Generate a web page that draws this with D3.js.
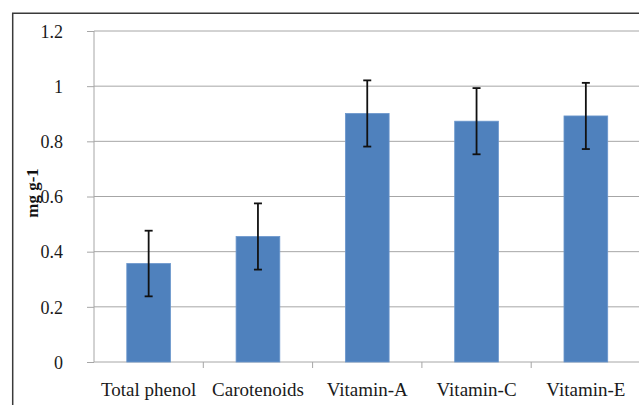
<!DOCTYPE html>
<html><head><meta charset="utf-8">
<script src="https://cdn.jsdelivr.net/npm/d3@7/dist/d3.min.js"></script>
<style>body{margin:0;background:#fff}svg{display:block}</style>
</head><body>
<svg id="c" width="639" height="405"></svg>
<script>
const categories = ["Total phenol","Carotenoids","Vitamin-A","Vitamin-C","Vitamin-E"];
const values = [0.357, 0.455, 0.901, 0.873, 0.892];
const errors = [0.119, 0.12, 0.12, 0.12, 0.12];
const yTicks = [0, 0.2, 0.4, 0.6, 0.8, 1, 1.2];
const yTickLabels = ["0","0.2","0.4","0.6","0.8","1","1.2"];
const yTitle = "mg g-1";

const FONT = "'Liberation Serif', 'Times New Roman', Times, serif";
const svg = d3.select("#c");
const L = 94, R = 640.5, T = 31, B = 362;
const x = d3.scaleBand().domain(categories).range([L, R]).paddingInner(0.6).paddingOuter(0.3);
const xb = d3.scaleBand().domain(categories).range([L, R]);
const y = d3.scaleLinear().domain([0, 1.2]).range([B, T]);

// outer frame
svg.append("path").attr("d", `M12.7,410 V13.3 H645`).attr("fill","none").attr("stroke","#3a3a3a").attr("stroke-width",1.5);

// gridlines
svg.append("g").selectAll("line").data(yTicks.filter(d=>d>0)).join("line")
  .attr("x1", L).attr("x2", R).attr("y1", d=>y(d)).attr("y2", d=>y(d))
  .attr("stroke","#a6a6a6").attr("stroke-width",1);

// y axis
const ya = svg.append("g").attr("transform",`translate(${L},0)`)
  .call(d3.axisLeft(y).tickValues(yTicks).tickFormat((d,i)=>yTickLabels[i]).tickSize(7).tickPadding(24));
ya.attr("font-family", FONT);
ya.select(".domain").attr("stroke","#a6a6a6").attr("d",`M0,${B}V${T}`);
ya.selectAll(".tick line").attr("stroke","#a6a6a6");
ya.selectAll("text").style("font-family",FONT).style("font-size","18px").attr("fill","#1a1a1a").attr("dy","0.35em");

// x axis
const xa = svg.append("g").attr("transform",`translate(0,${B})`)
  .call(d3.axisBottom(xb).tickSize(0).tickPadding(0));
xa.attr("font-family", FONT);
xa.select(".domain").attr("stroke","#a6a6a6").attr("d",`M${L},0H${R}`);
xa.selectAll(".tick text").style("font-family",FONT).style("font-size","19px").attr("fill","#1a1a1a").attr("dy",0).attr("y",34);
// boundary ticks
svg.append("g").selectAll("line").data(categories.slice(1)).join("line")
  .attr("x1", d=>xb(d)).attr("x2", d=>xb(d)).attr("y1", B).attr("y2", B+6)
  .attr("stroke","#a6a6a6");

// bars
svg.append("g").selectAll("rect").data(categories).join("rect")
  .attr("x", d=>x(d)).attr("width", x.bandwidth())
  .attr("y", (d,i)=>y(values[i])).attr("height", (d,i)=>B - y(values[i]))
  .attr("fill","#4f81bd").attr("stroke","#6a96cc").attr("stroke-width",0.8);

// error bars
const eg = svg.append("g").attr("stroke","#111").attr("stroke-width",1.8);
categories.forEach((c,i)=>{
  const cx = x(c) + x.bandwidth()/2;
  const y1 = y(values[i]+errors[i]), y0 = y(values[i]-errors[i]);
  eg.append("line").attr("x1",cx).attr("x2",cx).attr("y1",y1).attr("y2",y0);
  eg.append("line").attr("x1",cx-4).attr("x2",cx+4).attr("y1",y1).attr("y2",y1);
  eg.append("line").attr("x1",cx-4).attr("x2",cx+4).attr("y1",y0).attr("y2",y0);
});

// y title
svg.append("text").attr("transform","translate(38,193) rotate(-90)")
  .attr("text-anchor","middle").style("font-family",FONT)
  .attr("font-weight","bold").style("font-size","17px").attr("fill","#111").text(yTitle);
</script>
</body></html>
